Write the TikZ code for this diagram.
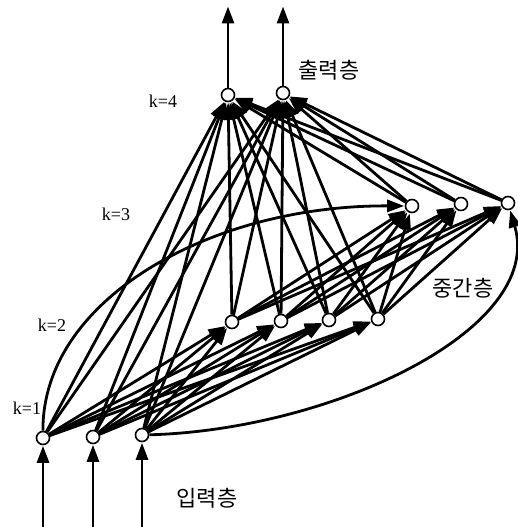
\documentclass[tikz,border=0pt]{standalone}
\usepackage{fontspec}
\setmainfont{Liberation Serif}
\newfontfamily\kr{Noto Sans CJK KR}
\usetikzlibrary{arrows.meta}
\tikzset{
  unit/.style={circle,draw,fill=white,inner sep=0pt,minimum size=13pt,line width=1.6pt},
  conn/.style={line width=2.8pt,-{Triangle[length=17pt,width=12pt]},shorten >=0.5pt},
  klabel/.style={font=\fontsize{18}{18}\selectfont},
  krlabel/.style={font=\kr\fontsize{22}{22}\selectfont}
}
\begin{document}
\begin{tikzpicture}[x=1pt,y=-1pt]
\useasboundingbox (0,0) rectangle (518,527);
% nodes
\node[unit] (I1) at (43,438) {};
\node[unit] (I2) at (93,437) {};
\node[unit] (I3) at (142,435) {};
\node[unit] (H1) at (232,322) {};
\node[unit] (H2) at (281,321) {};
\node[unit] (H3) at (329,320) {};
\node[unit] (H4) at (378,319) {};
\node[unit] (G1) at (412,206) {};
\node[unit] (G2) at (461,204) {};
\node[unit] (G3) at (508,203) {};
\node[unit] (O1) at (228,95) {};
\node[unit] (O2) at (283,93) {};
\coordinate (i1b) at (43,527);
\coordinate (i2b) at (93,527);
\coordinate (i3b) at (142,527);
\coordinate (o1t) at (228,6);
\coordinate (o2t) at (283,6);
% external arrows
\draw[conn] (i1b) -- (I1);
\draw[conn] (i2b) -- (I2);
\draw[conn] (i3b) -- (I3);
\draw[conn] (O1) -- (o1t);
\draw[conn] (O2) -- (o2t);
% input -> hidden 1
\foreach \s in {I1,I2,I3}{
  \foreach \t in {H1,H2,H3,H4}{
    \draw[conn] (\s) -- (\t);
  }
}
% hidden 1 -> hidden 2
\foreach \s in {H1,H2,H3,H4}{
  \foreach \t in {G1,G2,G3}{
    \draw[conn] (\s) -- (\t);
  }
}
% everything -> outputs
\foreach \s in {I1,I2,I3,H1,H2,H3,H4,G1,G2,G3}{
  \foreach \t in {O1,O2}{
    \draw[conn] (\s) -- (\t);
  }
}
% curved input -> hidden 2
\draw[conn] (I1) .. controls (42,300) and (210,205) .. (G1);
\draw[conn] (I3) .. controls (330,430) and (545,330) .. (G3);
% labels
\node[klabel] (k4) at (163,101) {k=4};
\node[klabel] (k3) at (116,214) {k=3};
\node[klabel] (k2) at (52,325) {k=2};
\node[klabel] (k1) at (27,408) {k=1};
\node[krlabel] (lo) at (329,70) {출력층};
\node[krlabel] (lm) at (463,288) {중간층};
\node[krlabel] (li) at (207,498) {입력층};
\end{tikzpicture}
\end{document}
